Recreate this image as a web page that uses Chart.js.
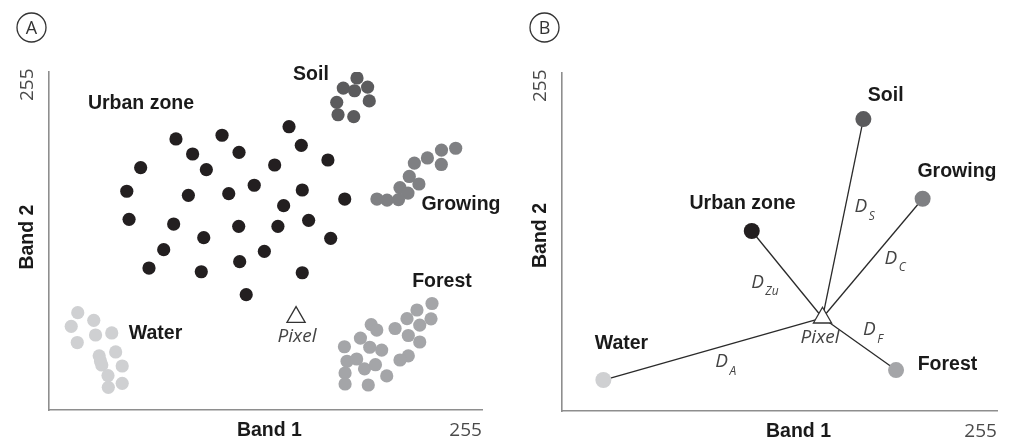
<!DOCTYPE html>
<html>
<head>
<meta charset="utf-8">
<script src="https://cdn.jsdelivr.net/npm/chart.js@4/dist/chart.umd.min.js"></script>
<style>
  html, body { margin: 0; padding: 0; background: #ffffff; overflow: hidden; }
  #wrap { display: flex; width: 1009px; height: 444px; }
  canvas { display: block; }
</style>
</head>
<body>
<div id="wrap">
  <canvas id="panelA" width="513" height="444"></canvas>
  <canvas id="panelB" width="496" height="444"></canvas>
</div>
<script>
// ---- Training samples (digital numbers, 0-255) per land-cover class ----
const urbanBand1 = [77.7, 105.9, 146.9, 87.9, 116.3, 154.4, 56.1, 96.3, 138.1, 170.7, 47.6, 85.3, 110.0, 125.6, 155.0, 181.0, 143.6, 49.0, 76.3, 116.1, 140.1, 158.9, 94.7, 172.4, 70.2, 131.8, 61.2, 93.2, 116.7, 155.0, 120.7];
const urbanBand2 = [212.5, 215.4, 222.1, 200.7, 202.0, 207.5, 190.0, 188.4, 192.1, 196.0, 171.5, 168.3, 169.6, 176.2, 172.5, 165.4, 160.2, 149.5, 145.8, 144.0, 144.0, 148.7, 135.1, 134.6, 125.7, 124.4, 111.3, 108.4, 116.3, 107.6, 90.4];

const soilBand1 = [188.5, 180.1, 187.0, 195.0, 196.0, 176.1, 176.9, 186.5];
const soilBand2 = [260.3, 252.4, 250.3, 253.2, 242.3, 241.2, 231.5, 230.0];

const growingBand1 = [248.9, 240.2, 231.6, 240.1, 223.6, 220.5, 226.4, 214.8, 219.7, 213.9, 206.9, 200.7];
const growingBand2 = [205.2, 203.8, 197.6, 192.5, 193.6, 183.1, 177.2, 174.4, 170.1, 165.0, 164.6, 165.4];

const forestBand1 = [234.4, 225.2, 233.8, 219.1, 226.9, 211.8, 197.2, 200.6, 219.9, 226.9, 190.6, 196.3, 203.6, 180.8, 219.9, 214.8, 182.4, 188.3, 193.1, 199.8, 181.2, 206.7, 181.2, 195.4];
const forestBand2 = [83.5, 78.4, 71.5, 71.6, 66.6, 63.9, 67.0, 62.7, 58.4, 53.3, 56.4, 49.2, 47.0, 49.6, 42.5, 39.2, 38.2, 40.0, 32.3, 35.5, 29.0, 26.7, 20.4, 19.6];

const waterBand1 = [17.6, 27.4, 13.6, 28.5, 38.4, 17.3, 40.8, 30.7, 31.5, 32.3, 44.8, 36.1, 44.8, 36.3];
const waterBand2 = [76.3, 70.3, 65.6, 58.8, 60.4, 52.9, 45.5, 42.5, 38.4, 35.3, 34.5, 27.0, 20.9, 17.8];

// Unknown pixel to be classified
const pixelA = { band1: 151.2, band2: 72.8 };
const pixelB = { band1: 158.7, band2: 73.1 };

// ---- Class centres used for the minimum-distance rule ----
const classNames   = ['Urban zone', 'Soil', 'Growing', 'Forest', 'Water'];
const centreBand1  = [115.6, 183.6, 219.7, 203.5, 25.2];
const centreBand2  = [141.1, 228.9, 166.4, 32.1, 24.3];
const distanceSubs = ['Zu', 'S', 'C', 'F', 'A'];

// ---- Axis range and the one tick that is labelled ----
const bandMax = 265;
const bandTick = 255;

// ---- Styling ----
const classColors = ['#231f20', '#5b5b5d', '#7f8083', '#a4a5a8', '#cfd0d2'];
const FONT_LABEL = 'bold 19.5px "Liberation Sans", Arial, sans-serif';
const FONT_LIGHT = '19px "Open Sans", "DejaVu Sans", sans-serif';
const FONT_ITAL  = 'italic 19px "Open Sans", "DejaVu Sans", sans-serif';
const FONT_SUB   = 'italic 12px "Open Sans", "DejaVu Sans", sans-serif';

const samples = [
  [urbanBand1, urbanBand2],
  [soilBand1, soilBand2],
  [growingBand1, growingBand2],
  [forestBand1, forestBand2],
  [waterBand1, waterBand2]
];

function pts(xs, ys) { return xs.map((v, i) => ({ x: v, y: ys[i] })); }

// Text annotations: anchor positions in band units
const panelAText = {
  letter: 'A',
  band1TitleAt: 134.9,
  band2TitleAt: 135.6,
  classLabels: [
    { text: 'Urban zone', x: 56.3,  y: 239.9 },
    { text: 'Soil',       x: 160.3, y: 263.0 },
    { text: 'Growing',    x: 252.1, y: 161.1 },
    { text: 'Forest',     x: 240.5, y: 100.4 },
    { text: 'Water',      x: 65.2,  y: 60.0 }
  ],
  pixelLabel: { x: 151.8, y: 57.2 },
  distLabels: []
};

const panelBText = {
  letter: 'B',
  band1TitleAt: 144.1,
  band2TitleAt: 137.6,
  classLabels: [
    { text: 'Urban zone', x: 110.0, y: 162.7 },
    { text: 'Soil',       x: 197.2, y: 247.2 },
    { text: 'Growing',    x: 240.6, y: 187.6 },
    { text: 'Forest',     x: 234.8, y: 36.5 },
    { text: 'Water',      x: 36.2,  y: 52.5 }
  ],
  pixelLabel: { x: 157.2, y: 57.6 },
  distLabels: [
    { sub: distanceSubs[0], x: 119.1, y: 100.7 },
    { sub: distanceSubs[1], x: 182.1, y: 160.2 },
    { sub: distanceSubs[2], x: 200.4, y: 119.6 },
    { sub: distanceSubs[3], x: 187.3, y: 63.5 },
    { sub: distanceSubs[4], x: 97.2,  y: 38.4 }
  ]
};

function textPlugin(cfg) {
  return {
    id: 'panelText',
    afterDatasetsDraw(chart) {
      const { ctx, chartArea } = chart;
      const xs = chart.scales.x, ys = chart.scales.y;
      const px = v => xs.getPixelForValue(v);
      const py = v => ys.getPixelForValue(v);
      ctx.save();

      // circled panel letter
      ctx.beginPath();
      ctx.arc(chartArea.left - 17.5, 27.5, 14.5, 0, Math.PI * 2);
      ctx.lineWidth = 1.3;
      ctx.strokeStyle = '#333';
      ctx.stroke();
      ctx.fillStyle = '#333';
      ctx.font = '18px "Open Sans", sans-serif';
      ctx.textAlign = 'center';
      ctx.textBaseline = 'middle';
      ctx.fillText(cfg.letter, chartArea.left - 17.5, 28.5);

      // axis titles and end ticks
      ctx.fillStyle = '#1a1a1a';
      ctx.font = FONT_LABEL;
      ctx.fillText('Band 1', px(cfg.band1TitleAt), chartArea.bottom + 21);
      ctx.save();
      ctx.translate(chartArea.left - 21, py(cfg.band2TitleAt));
      ctx.rotate(-Math.PI / 2);
      ctx.fillText('Band 2', 0, 0);
      ctx.restore();

      ctx.fillStyle = '#4a4a4a';
      ctx.font = FONT_LIGHT;
      ctx.fillText(String(bandTick), px(bandTick), chartArea.bottom + 21);
      ctx.save();
      ctx.translate(chartArea.left - 21, py(bandTick));
      ctx.rotate(-Math.PI / 2);
      ctx.fillText(String(bandTick), 0, 0);
      ctx.restore();

      // class names
      ctx.fillStyle = '#1a1a1a';
      ctx.font = FONT_LABEL;
      cfg.classLabels.forEach(l => ctx.fillText(l.text, px(l.x), py(l.y)));

      // unknown pixel
      ctx.fillStyle = '#444';
      ctx.font = FONT_ITAL;
      ctx.fillText('Pixel', px(cfg.pixelLabel.x), py(cfg.pixelLabel.y));

      // distance labels D with subscript
      cfg.distLabels.forEach(d => {
        const cx = px(d.x), cy = py(d.y);
        ctx.font = FONT_ITAL;
        ctx.textAlign = 'center';
        ctx.fillText('D', cx, cy);
        const w = ctx.measureText('D').width;
        ctx.font = FONT_SUB;
        ctx.textAlign = 'left';
        ctx.fillText(d.sub, cx + w / 2 + 1.5, cy + 9.5);
      });
      ctx.restore();
    }
  };
}

function baseOptions(padding) {
  const axis = {
    type: 'linear',
    min: 0,
    max: bandMax,
    grid: { display: false, drawTicks: false },
    ticks: { display: false },
    border: { display: true, color: '#8e8e8e', width: 1.6 }
  };
  return {
    responsive: false,
    animation: false,
    events: [],
    layout: { padding },
    plugins: { legend: { display: false }, tooltip: { enabled: false } },
    scales: { x: { ...axis }, y: { ...axis } }
  };
}

// ---- Panel A: scatter of training samples ----
const datasetsA = samples.map((s, i) => ({
  label: classNames[i],
  data: pts(s[0], s[1]),
  pointRadius: 6.6,
  pointBackgroundColor: classColors[i],
  pointBorderWidth: 0,
  order: 1
}));
datasetsA.push({
  label: 'Pixel',
  data: [{ x: pixelA.band1, y: pixelA.band2 }],
  pointStyle: 'triangle',
  pointRadius: 10.5,
  pointBackgroundColor: '#ffffff',
  pointBorderColor: '#333333',
  pointBorderWidth: 1.3,
  order: 0
});

new Chart(document.getElementById('panelA'), {
  type: 'scatter',
  data: { datasets: datasetsA },
  options: baseOptions({ left: 49, top: 72, right: 31, bottom: 34 }),
  plugins: [textPlugin(panelAText)]
});

// ---- Panel B: distances from the pixel to each class centre ----
const datasetsB = classNames.map((name, i) => ({
  label: 'D' + distanceSubs[i],
  data: [{ x: centreBand1[i], y: centreBand2[i] }, { x: pixelB.band1, y: pixelB.band2 }],
  showLine: true,
  borderColor: '#2a2a2a',
  borderWidth: 1.3,
  pointRadius: 0,
  order: 2
}));
datasetsB.push({
  label: 'Centres',
  data: pts(centreBand1, centreBand2),
  pointRadius: 8,
  pointBackgroundColor: classColors,
  pointBorderWidth: 0,
  order: 1
});
datasetsB.push({
  label: 'Pixel',
  data: [{ x: pixelB.band1, y: pixelB.band2 }],
  pointStyle: 'triangle',
  pointRadius: 10.5,
  pointBackgroundColor: '#ffffff',
  pointBorderColor: '#333333',
  pointBorderWidth: 1.3,
  order: 0
});

new Chart(document.getElementById('panelB'), {
  type: 'scatter',
  data: { datasets: datasetsB },
  options: baseOptions({ left: 49, top: 73, right: 12, bottom: 33 }),
  plugins: [textPlugin(panelBText)]
});
</script>
</body>
</html>
